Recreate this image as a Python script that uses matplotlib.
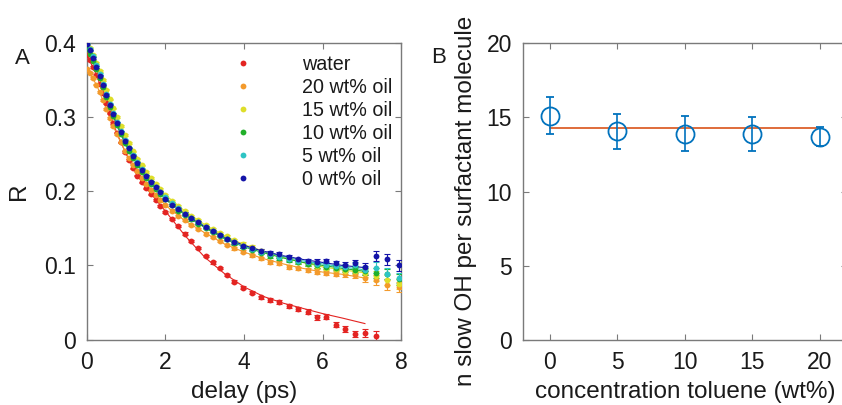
'''
Anisotropy decay of water vs oil content (A) and slow OH count per surfactant (B)
'''

import matplotlib
matplotlib.use('Agg')
import matplotlib.pyplot as plt
from matplotlib.lines import Line2D

plt.rcParams['font.family'] = ['Liberation Sans', 'DejaVu Sans']

# ---- panel A data -----------------------------------------------------------
delay = [0.00, 0.08, 0.16, 0.24, 0.32, 0.40, 0.49, 0.58, 0.67, 0.76,
         0.86, 0.96, 1.06, 1.17, 1.28, 1.39, 1.51, 1.63, 1.75, 1.87,
         2.00, 2.16, 2.32, 2.49, 2.66, 2.84, 3.02, 3.20, 3.38, 3.56,
         3.74, 3.98, 4.21, 4.44, 4.67, 4.90, 5.14, 5.38, 5.62, 5.86,
         6.10, 6.34, 6.58, 6.83, 7.08, 7.35, 7.63, 7.96]

r_water = [0.384, 0.377, 0.368, 0.357, 0.345, 0.333, 0.319, 0.305, 0.292, 0.279,
           0.266, 0.253, 0.242, 0.231, 0.221, 0.212, 0.204, 0.196, 0.188, 0.180,
           0.172, 0.163, 0.153, 0.143, 0.133, 0.123, 0.113, 0.104, 0.096, 0.087,
           0.078, 0.070, 0.063, 0.057, 0.053, 0.051, 0.045, 0.041, 0.0375, 0.030,
           0.031, 0.020, 0.014, 0.008, 0.009, 0.005]
r_oil20 = [0.365, 0.360, 0.353, 0.344, 0.334, 0.323, 0.311, 0.299, 0.288, 0.277,
           0.266, 0.255, 0.245, 0.236, 0.227, 0.218, 0.210, 0.202, 0.195, 0.188,
           0.181, 0.174, 0.167, 0.161, 0.155, 0.149, 0.143, 0.138, 0.133, 0.128,
           0.123, 0.1185, 0.114, 0.1095, 0.105, 0.103, 0.098, 0.096, 0.094, 0.0915,
           0.090, 0.089, 0.088, 0.087, 0.0825, 0.080, 0.0735, 0.071]
r_oil15 = [0.400, 0.393, 0.384, 0.373, 0.362, 0.350, 0.337, 0.324, 0.312, 0.300,
           0.288, 0.276, 0.265, 0.254, 0.244, 0.235, 0.226, 0.218, 0.210, 0.203,
           0.195, 0.187, 0.180, 0.173, 0.167, 0.161, 0.155, 0.149, 0.144, 0.139,
           0.134, 0.129, 0.125, 0.120, 0.116, 0.112, 0.108, 0.105, 0.102, 0.099,
           0.097, 0.095, 0.093, 0.092, 0.090, 0.086, 0.080, 0.075]
r_oil10 = [0.392, 0.385, 0.376, 0.365, 0.353, 0.341, 0.327, 0.314, 0.301, 0.289,
           0.277, 0.265, 0.255, 0.245, 0.235, 0.226, 0.218, 0.210, 0.203, 0.196,
           0.189, 0.181, 0.174, 0.168, 0.162, 0.156, 0.150, 0.145, 0.140, 0.135,
           0.130, 0.125, 0.121, 0.117, 0.113, 0.110, 0.107, 0.104, 0.102, 0.100,
           0.098, 0.097, 0.095, 0.094, 0.092, 0.090, 0.088, 0.081]
r_oil5 = [0.400, 0.392, 0.382, 0.370, 0.358, 0.345, 0.331, 0.318, 0.305, 0.293,
          0.281, 0.269, 0.259, 0.249, 0.239, 0.230, 0.221, 0.213, 0.206, 0.199,
          0.192, 0.184, 0.177, 0.170, 0.164, 0.158, 0.152, 0.146, 0.141, 0.136,
          0.131, 0.126, 0.122, 0.118, 0.115, 0.112, 0.109, 0.106, 0.104, 0.102,
          0.101, 0.099, 0.098, 0.100, 0.094, 0.097, 0.089, 0.083]
r_oil0 = [0.399, 0.390, 0.380, 0.368, 0.356, 0.344, 0.330, 0.317, 0.304, 0.292,
          0.280, 0.268, 0.258, 0.248, 0.238, 0.229, 0.221, 0.213, 0.206, 0.199,
          0.190, 0.182, 0.176, 0.170, 0.164, 0.158, 0.152, 0.146, 0.141, 0.136,
          0.131, 0.126, 0.123, 0.120, 0.117, 0.115, 0.111, 0.108, 0.106, 0.105,
          0.106, 0.103, 0.101, 0.103, 0.098, 0.113, 0.108, 0.100]

r_err = [0.001, 0.001, 0.001, 0.001, 0.001, 0.001, 0.001, 0.001, 0.001, 0.001,
         0.001, 0.001, 0.001, 0.001, 0.001, 0.001, 0.001, 0.001, 0.001, 0.001,
         0.0015, 0.0015, 0.0015, 0.0015, 0.0015, 0.0015, 0.0015, 0.0015, 0.0015, 0.0015,
         0.002, 0.002, 0.002, 0.002, 0.0025, 0.0025, 0.0025, 0.0025, 0.003, 0.003,
         0.003, 0.0035, 0.004, 0.004, 0.005, 0.007, 0.007, 0.007]

# fitted curves
fit_delay = [0.0, 0.25, 0.5, 0.75, 1.0, 1.25, 1.5, 2.0, 2.5, 3.0,
             3.5, 4.0, 4.5, 5.0, 5.5, 6.0, 6.5, 7.08]
fit_water = [0.384, 0.356, 0.318, 0.280, 0.250, 0.224, 0.205, 0.173, 0.140, 0.111,
             0.089, 0.071, 0.058, 0.049, 0.042, 0.035, 0.029, 0.0215]
fit_oil20 = [0.365, 0.343, 0.310, 0.278, 0.251, 0.230, 0.211, 0.181, 0.160, 0.144,
             0.129, 0.118, 0.109, 0.102, 0.096, 0.091, 0.088, 0.083]
fit_oil15 = [0.399, 0.372, 0.336, 0.301, 0.272, 0.249, 0.227, 0.195, 0.173, 0.155,
             0.140, 0.128, 0.119, 0.111, 0.104, 0.098, 0.094, 0.090]
fit_oil10 = [0.392, 0.364, 0.326, 0.290, 0.261, 0.239, 0.219, 0.189, 0.168, 0.151,
             0.136, 0.125, 0.117, 0.110, 0.104, 0.100, 0.096, 0.092]
fit_oil5 = [0.399, 0.369, 0.330, 0.294, 0.265, 0.242, 0.222, 0.192, 0.170, 0.153,
            0.137, 0.126, 0.119, 0.112, 0.106, 0.102, 0.098, 0.094]
fit_oil0 = [0.398, 0.367, 0.329, 0.293, 0.264, 0.241, 0.222, 0.190, 0.169, 0.152,
            0.138, 0.127, 0.119, 0.113, 0.108, 0.104, 0.100, 0.097]

labels = ['water', '20 wt% oil', '15 wt% oil', '10 wt% oil', '5 wt% oil', '0 wt% oil']
colors = ['#e32422', '#f39a2c', '#dede2a', '#22b02a', '#2ec4c4', '#1414a8']

# ---- panel B data -----------------------------------------------------------
toluene = [0, 5, 10, 15, 20]
n_slow = [15.1, 14.05, 13.9, 13.9, 13.7]
n_err = [1.25, 1.17, 1.18, 1.15, 0.62]
n_mean = 14.27

TEXT = '#1a1a1a'
SPINE = '#7a7a7a'


def style_axes(ax):
    for s in ax.spines.values():
        s.set_color(SPINE)
        s.set_linewidth(1.0)
    ax.tick_params(direction='in', top=True, right=True, length=4, width=0.8,
                   color=SPINE, labelsize=16.5, labelcolor=TEXT, pad=8)


fig = plt.figure(figsize=(8.42, 4.05), dpi=100)

# ---- A ----
axA = fig.add_axes([0.1033, 0.1617, 0.373, 0.732])
series = [r_water, r_oil20, r_oil15, r_oil10, r_oil5, r_oil0]
fits = [fit_water, fit_oil20, fit_oil15, fit_oil10, fit_oil5, fit_oil0]
for fit, col in zip(fits, colors):
    axA.plot(fit_delay, fit, '-', color=col, lw=0.8, zorder=2)
for vals, col in zip(series, colors):
    n = len(vals)
    axA.errorbar(delay[:n], vals, yerr=r_err[:n], fmt='o', ms=4.2, color=col,
                 mec='none', elinewidth=0.8, capsize=2, capthick=0.8, zorder=3)
axA.set_xlim(0, 8)
axA.set_ylim(0, 0.4)
axA.set_xticks([0, 2, 4, 6, 8])
axA.set_yticks([0, 0.1, 0.2, 0.3, 0.4])
axA.set_yticklabels(['0', '0.1', '0.2', '0.3', '0.4'])
style_axes(axA)
axA.set_xlabel('delay (ps)', fontsize=17.5, color=TEXT, labelpad=5)
axA.set_ylabel('R', fontsize=17.5, color=TEXT)
axA.yaxis.set_label_coords(-0.18, 0.5)

handles = [Line2D([], [], ls='none', marker='o', ms=4.2, color=c, mec='none') for c in colors]
axA.legend(handles, labels, loc='upper left', bbox_to_anchor=(0.44, 0.985),
           frameon=False, fontsize=14.2, handlelength=1.0, handletextpad=2.5,
           labelspacing=0.2, borderaxespad=0, labelcolor=TEXT)

# ---- B ----
axB = fig.add_axes([0.6211, 0.1605, 0.3848, 0.733])
axB.plot([toluene[0], toluene[-1]], [n_mean, n_mean], '-', color='#d95319', lw=1.2, zorder=2)
axB.errorbar(toluene, n_slow, yerr=n_err, fmt='o', ms=13, mfc='none', mec='#0072bd',
             mew=1.3, color='#0072bd', elinewidth=1.2, capsize=3, capthick=1.2, zorder=3)
axB.set_xlim(-2, 22)
axB.set_ylim(0, 20)
axB.set_xticks([0, 5, 10, 15, 20])
axB.set_yticks([0, 5, 10, 15, 20])
style_axes(axB)
axB.set_xlabel('concentration toluene (wt%)', fontsize=17.5, color=TEXT, labelpad=5)
axB.set_ylabel('n slow OH per surfactant molecule', fontsize=17.5, color=TEXT)
axB.yaxis.set_label_coords(-0.142, 0.468)

fig.text(0.026, 0.855, 'A', fontsize=16, color=TEXT, ha='center', va='center')
fig.text(0.521, 0.857, 'B', fontsize=16, color=TEXT, ha='center', va='center')

fig.savefig('out.png', dpi=100)
